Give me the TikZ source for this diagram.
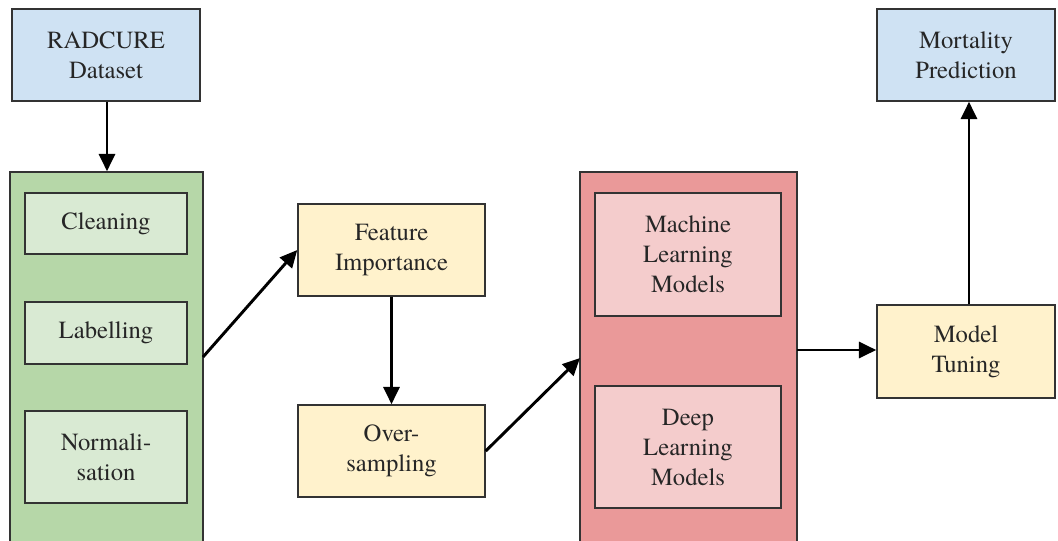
\documentclass[tikz,border=0pt]{standalone}
\usepackage{fontspec}
\setmainfont{texgyretermes}[Extension=.otf, UprightFont=*-regular, BoldFont=*-bold]
\usetikzlibrary{arrows.meta}
\definecolor{blueF}{HTML}{CFE2F3}
\definecolor{greenF}{HTML}{B6D7A8}
\definecolor{greenL}{HTML}{D9EAD3}
\definecolor{yellowF}{HTML}{FFF2CC}
\definecolor{redF}{HTML}{EA9999}
\definecolor{redL}{HTML}{F4CCCC}
\definecolor{edge}{HTML}{333333}
\tikzset{
  box/.style={draw=edge, line width=1.1pt, align=center, inner sep=0pt,
    font=\fontsize{18.5}{22.5}\selectfont, text=black!85},
  conn/.style={-{Triangle[length=13pt,width=12pt]}, line width=2.2pt, black},
}
\begin{document}
\begin{tikzpicture}[x=0.75pt,y=-0.75pt]
\useasboundingbox (0,0) rectangle (1058,540);
\clip (0,0) rectangle (1058,540);
\fill[white] (0,0) rectangle (1058,540);
% containers
\node[box, fill=greenF, minimum width={193*0.75pt}, minimum height={400*0.75pt}] (grp1) at (106.5,372) {};
\node[box, fill=redF, minimum width={217*0.75pt}, minimum height={400*0.75pt}] (grp2) at (688.5,372) {};
% boxes
\node[box, fill=blueF, minimum width={188*0.75pt}, minimum height={92*0.75pt}] (rad) at (106,55) {RADCURE\\Dataset};
\node[box, fill=greenL, minimum width={162*0.75pt}, minimum height={61*0.75pt}] (clean) at (106,223.5) {Cleaning};
\node[box, fill=greenL, minimum width={162*0.75pt}, minimum height={62*0.75pt}] (label) at (106,333) {Labelling};
\node[box, fill=greenL, minimum width={162*0.75pt}, minimum height={92*0.75pt}] (norm) at (106,457) {Normali-\\sation};
\node[box, fill=yellowF, minimum width={187*0.75pt}, minimum height={92*0.75pt}] (feat) at (391.5,250) {Feature\\Importance};
\node[box, fill=yellowF, minimum width={187*0.75pt}, minimum height={92*0.75pt}] (over) at (391.5,451) {Over-\\sampling};
\node[box, fill=redL, minimum width={186*0.75pt}, minimum height={123*0.75pt}] (ml) at (688,254.5) {Machine\\Learning\\Models};
\node[box, fill=redL, minimum width={186*0.75pt}, minimum height={122*0.75pt}] (dl) at (688,447) {Deep\\Learning\\Models};
\node[box, fill=yellowF, minimum width={178*0.75pt}, minimum height={93*0.75pt}] (tune) at (966,351.5) {Model\\Tuning};
\node[box, fill=blueF, minimum width={178*0.75pt}, minimum height={92*0.75pt}] (mort) at (966,55) {Mortality\\Prediction};
% connectors
\draw[conn] (rad.south -| 107,0) -- (grp1.north -| 107,0);
\coordinate (g1e) at (203,357);
\draw[conn] (g1e) -- (feat.west);
\draw[conn] (feat.south) -- (over.north);
\coordinate (g2w) at (580,358);
\draw[conn] (over.east) -- (g2w);
\coordinate (g2e) at (797,350);
\draw[conn] (g2e) -- (tune.west |- g2e);
\draw[conn] (tune.north -| 969,0) -- (mort.south -| 969,0);
\end{tikzpicture}
\end{document}
